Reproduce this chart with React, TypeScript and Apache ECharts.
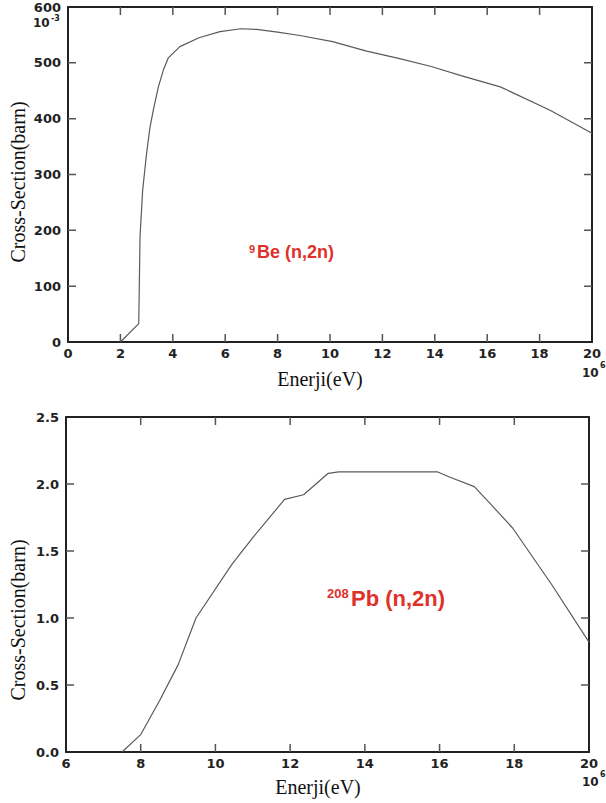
import React, { useEffect, useRef } from "react";
import * as echarts from "echarts";

// Top chart: 9Be (n,2n)  (energy in units of 10^6 eV, cross-section in 10^-3 barn)
const beEnergy = [2.0, 2.7, 2.75, 2.85, 3.0, 3.13, 3.26, 3.45, 3.64, 3.83, 4.27, 5.0, 5.8, 6.6, 7.2, 8.0, 8.85, 10.1, 11.4, 12.7, 13.9, 15.0, 16.5, 18.4, 20.0];
const beCross = [0, 33, 190, 272, 338, 385, 416, 457, 487, 509, 529, 545, 556, 561, 560, 555, 549, 538, 521, 507, 493, 477, 457, 415, 374];

// Bottom chart: 208Pb (n,2n)
const pbEnergy = [7.5, 8.0, 8.5, 9.0, 9.48, 10.44, 11.0, 11.85, 12.36, 13.02, 13.3, 15.95, 16.28, 16.93, 17.4, 17.96, 19.0, 20.0];
const pbCross = [0, 0.13, 0.38, 0.65, 1.0, 1.4, 1.6, 1.885, 1.92, 2.08, 2.09, 2.09, 2.05, 1.98, 1.84, 1.67, 1.25, 0.82];

// Axis ranges and tick positions
const topX = { min: 0, max: 20, interval: 2 };
const topY = { min: 0, max: 600, interval: 100 };
const botX = { min: 6, max: 20, interval: 2 };
const botY = { min: 0, max: 2.5, interval: 0.5 };
const topXTicks = [2, 4, 6, 8, 10, 12, 14, 16, 18];
const topYTicks = [100, 200, 300, 400, 500];
const botXTicks = [8, 10, 12, 14, 16, 18];
const botYTicks = [0.5, 1.0, 1.5, 2.0];

const yTitle = "Cross-Section(barn)";
const xTitle = "Enerji(eV)";

const GRIDS = [
  { left: 68, top: 7, width: 524, height: 335 },
  { left: 66, top: 417, width: 523, height: 335 },
];

const tickFont = () => ({
  fontFamily: "DejaVu Sans",
  fontWeight: "bold" as const,
  fontSize: 13,
  color: "#222",
});
const serif = "Liberation Serif";
const frame = () => ({ show: true, onZero: false, lineStyle: { color: "#222", width: 2 } });
const TICK_PX = 8;

export default function App() {
  const ref = useRef<HTMLDivElement>(null);
  useEffect(() => {
    if (!ref.current) return;
    const chart = echarts.init(ref.current, null, { renderer: "svg" });
    const mkPair = (gi: number, xr: any, yr: any, yFmt: (v: number) => string) => {
      const xs = [
        {
          type: "value", gridIndex: gi, position: "bottom", ...xr,
          axisLine: frame(), axisTick: { show: false }, splitLine: { show: false },
          axisLabel: { ...tickFont(), margin: 5 },
        },
        {
          type: "value", gridIndex: gi, position: "top", ...xr,
          axisLine: frame(), axisTick: { show: false }, splitLine: { show: false },
          axisLabel: { show: false },
        },
      ];
      const ys = [
        {
          type: "value", gridIndex: gi, position: "left", ...yr,
          axisLine: frame(), axisTick: { show: false }, splitLine: { show: false },
          axisLabel: { ...tickFont(), margin: 7, formatter: yFmt },
        },
        {
          type: "value", gridIndex: gi, position: "right", ...yr,
          axisLine: frame(), axisTick: { show: false }, splitLine: { show: false },
          axisLabel: { show: false },
        },
      ];
      return { xs, ys };
    };
    const a = mkPair(0, topX, topY, (v) => String(v));
    const b = mkPair(1, botX, botY, (v) => v.toFixed(1));

    // inward tick marks as short two-point line series, in each grid's data units
    const tickSeries = (axisIdx: number, g: any, xr: any, yr: any, xt: number[], yt: number[]) => {
      const dy = (TICK_PX / g.height) * (yr.max - yr.min);
      const dx = (TICK_PX / g.width) * (xr.max - xr.min);
      const segs: number[][][] = [];
      xt.forEach((v) => {
        segs.push([[v, yr.min], [v, yr.min + dy]]);
        segs.push([[v, yr.max], [v, yr.max - dy]]);
      });
      yt.forEach((v) => {
        segs.push([[xr.min, v], [xr.min + dx, v]]);
        segs.push([[xr.max, v], [xr.max - dx, v]]);
      });
      return segs.map((s) => ({
        type: "line", xAxisIndex: axisIdx, yAxisIndex: axisIdx, showSymbol: false, silent: true,
        data: s, lineStyle: { color: "#555", width: 1.5 }, z: 3,
      }));
    };

    const lineStyle = { color: "#5a5a5a", width: 1.2 };
    const supBase = { fontFamily: "DejaVu Sans", fontWeight: "bold", fill: "#222" };
    const titleStyle = { fontFamily: serif, fontSize: 20, fill: "#111", align: "center", verticalAlign: "middle" };
    const red = "#e0302a";
    chart.setOption({
      animation: false,
      backgroundColor: "#fff",
      tooltip: { show: false },
      grid: GRIDS.map((g) => ({ ...g, show: false })),
      xAxis: [...a.xs, ...b.xs],
      yAxis: [...a.ys, ...b.ys],
      series: [
        {
          type: "line", xAxisIndex: 0, yAxisIndex: 0, showSymbol: false,
          data: beEnergy.map((e, i) => [e, beCross[i]]), lineStyle,
        },
        {
          type: "line", xAxisIndex: 2, yAxisIndex: 2, showSymbol: false,
          data: pbEnergy.map((e, i) => [e, pbCross[i]]), lineStyle,
        },
        ...tickSeries(0, GRIDS[0], topX, topY, topXTicks, topYTicks),
        ...tickSeries(2, GRIDS[1], botX, botY, botXTicks, botYTicks),
      ],
      graphic: [
        // axis titles
        { type: "text", x: 18, y: 182, rotation: Math.PI / 2, style: { ...titleStyle, text: yTitle } },
        { type: "text", x: 18, y: 620, rotation: Math.PI / 2, style: { ...titleStyle, text: yTitle } },
        { type: "text", x: 320, y: 379, style: { ...titleStyle, text: xTitle } },
        { type: "text", x: 318, y: 787, style: { ...titleStyle, text: xTitle } },
        // 10^-3 under top y label
        { type: "text", left: 33, top: 17, style: { ...supBase, text: "10", fontSize: 12 } },
        { type: "text", left: 51, top: 14, style: { ...supBase, text: "-3", fontSize: 8 } },
        // 10^6 top chart
        { type: "text", left: 582, top: 367, style: { ...supBase, text: "10", fontSize: 12 } },
        { type: "text", left: 600, top: 361, style: { ...supBase, text: "6", fontSize: 8 } },
        // 10^6 bottom chart
        { type: "text", left: 582, top: 776, style: { ...supBase, text: "10", fontSize: 12 } },
        { type: "text", left: 600, top: 770, style: { ...supBase, text: "6", fontSize: 8 } },
        // Be label
        { type: "text", left: 249, top: 243, style: { text: "9", fontFamily: "Liberation Sans", fontWeight: "bold", fontSize: 11, fill: red } },
        { type: "text", left: 257, top: 243, style: { text: "Be (n,2n)", fontFamily: "Liberation Sans", fontWeight: "bold", fontSize: 18, fill: red } },
        // Pb label
        { type: "text", left: 327, top: 587, style: { text: "208", fontFamily: "Liberation Sans", fontWeight: "bold", fontSize: 13, fill: red } },
        { type: "text", left: 351, top: 587, style: { text: "Pb (n,2n)", fontFamily: "Liberation Sans", fontWeight: "bold", fontSize: 22, fill: red } },
      ],
    });
    return () => chart.dispose();
  }, []);
  return (
    <div
      ref={ref}
      style={{ position: "absolute", left: 0, top: 0, width: 606, height: 803, background: "#fff" }}
    />
  );
}
